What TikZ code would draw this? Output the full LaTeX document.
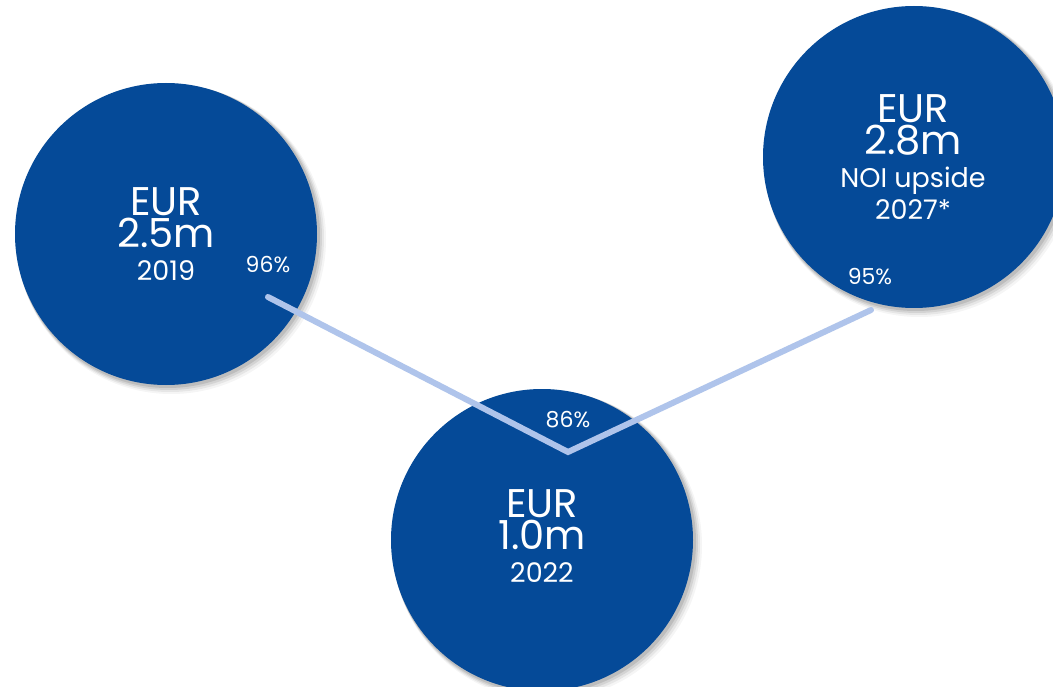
\documentclass[tikz,border=0pt]{standalone}
\usepackage{fontspec}
\setmainfont{Poppins}
\definecolor{disc}{HTML}{054A98}
\definecolor{link}{HTML}{AFC4EB}
\begin{document}
\begin{tikzpicture}[x=1pt,y=-1pt,
  disc/.style={circle,fill=disc,minimum size=302pt,inner sep=0pt},
  big/.style={text=white,anchor=base,inner sep=0pt,font=\fontsize{40}{40}\selectfont},
  small/.style={text=white,anchor=base,inner sep=0pt,font=\fontsize{27}{27}\selectfont},
  pct/.style={text=white,anchor=base,inner sep=0pt,font=\fontsize{22}{22}\selectfont},
  linkline/.style={draw=link,line width=6pt,line cap=round,line join=miter}]
\clip (0,0) rectangle (1053,687);
\fill[white] (0,0) rectangle (1053,687);
% soft shadows
\foreach \cx/\cy in {166/234, 542/540, 914/157}{
  \foreach \d/\o in {9/0.04,7/0.06,5/0.08,3/0.10}{
    \fill[black,opacity=\o] (\cx+\d*0.6,\cy+\d*0.6) circle (151+\d*0.4);
  }
}
\node[disc] (c19) at (166,234) {};
\node[disc] (c22) at (542,540) {};
\node[disc] (c27) at (914,157) {};
\coordinate (p19) at (268,297);
\coordinate (p22) at (568,452);
\coordinate (p27) at (871,310);
\draw[linkline] (p19) -- (p22) -- (p27);
% left
\node[big] (t19a) at (166,216) {EUR};
\node[big] (t19b) at (166,248) {2.5m};
\node[small] (t19c) at (166,281) {2019};
\node[pct] (q19) at (268,273) {96\%};
% bottom
\node[big] (t22a) at (542,517) {EUR};
\node[big] (t22b) at (542,549) {1.0m};
\node[small] (t22c) at (542,582) {2022};
\node[pct] (q22) at (568,427) {86\%};
% right
\node[big] (t27a) at (913,123) {EUR};
\node[big] (t27b) at (913,155) {2.8m};
\node[small] (t27c) at (913,188) {NOI upside};
\node[small] (t27d) at (913,220) {2027*};
\node[pct] (q27) at (870,285) {95\%};
\end{tikzpicture}
\end{document}
